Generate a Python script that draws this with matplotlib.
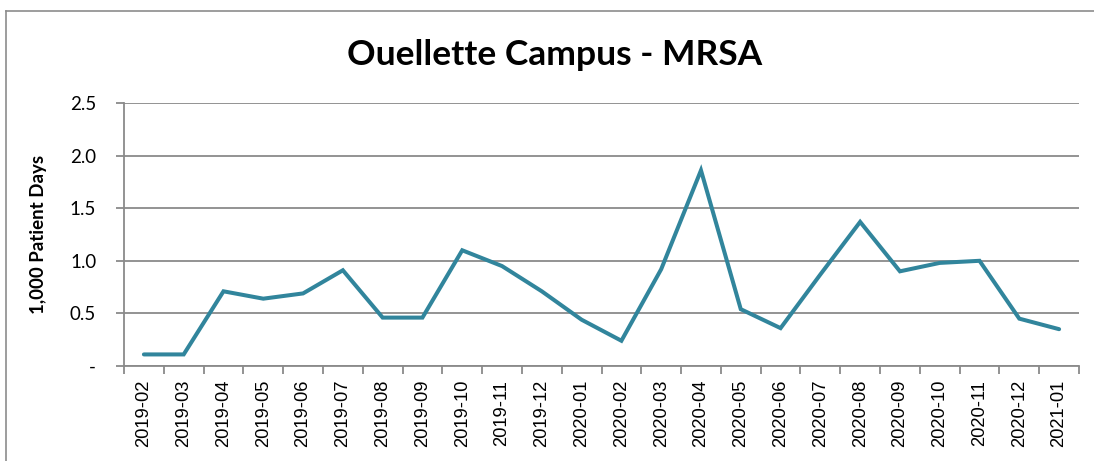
import matplotlib.pyplot as plt
import matplotlib.lines as mlines

months = [
    "2019-02", "2019-03", "2019-04", "2019-05", "2019-06", "2019-07",
    "2019-08", "2019-09", "2019-10", "2019-11", "2019-12", "2020-01",
    "2020-02", "2020-03", "2020-04", "2020-05", "2020-06", "2020-07",
    "2020-08", "2020-09", "2020-10", "2020-11", "2020-12", "2021-01",
]
rate = [
    0.11, 0.11, 0.71, 0.64, 0.69, 0.91,
    0.46, 0.46, 1.10, 0.95, 0.71, 0.44,
    0.24, 0.92, 1.86, 0.54, 0.36, 0.87,
    1.37, 0.90, 0.98, 1.00, 0.45, 0.35,
]
y_ticks = [0.0, 0.5, 1.0, 1.5, 2.0, 2.5]
y_tick_labels = ["-", "0.5", "1.0", "1.5", "2.0", "2.5"]

W, H = 1094, 461
fig = plt.figure(figsize=(W / 100, H / 100), dpi=100)

# outer chart border (left and top visible)
fig.add_artist(mlines.Line2D([6 / W, 6 / W], [0, 1 - 11 / H], transform=fig.transFigure,
                             color="#8c8c8c", lw=1.2))
fig.add_artist(mlines.Line2D([6 / W, 1], [1 - 11 / H, 1 - 11 / H], transform=fig.transFigure,
                             color="#8c8c8c", lw=1.2))

left, right, top, bottom = 124, 1079, 103, 366
ax = fig.add_axes([left / W, 1 - bottom / H, (right - left) / W, (bottom - top) / H])

grid_c = "#8a8a8a"
x = list(range(len(months)))
ax.plot(x, rate, color="#31859C", lw=2.9, solid_joinstyle="miter", solid_capstyle="round", zorder=3)

ax.set_xlim(-0.5, len(months) - 0.5)
ax.set_ylim(0, 2.5)
ax.set_yticks(y_ticks)
ax.set_yticklabels(y_tick_labels, fontfamily="Lato", fontsize=13.5)
ax.yaxis.grid(True, color=grid_c, lw=1.3)
ax.set_axisbelow(True)

ax.set_xticks(x)
ax.set_xticklabels(months, rotation=90, fontfamily="Liberation Sans", fontsize=13.2)
ax.set_xticks([i - 0.5 for i in range(len(months) + 1)], minor=True)
ax.tick_params(axis="x", which="major", length=0, pad=10)
ax.tick_params(axis="x", which="minor", length=6, color=grid_c, width=1.3, direction="out")
ax.tick_params(axis="y", length=6, color=grid_c, width=1.3, pad=14)

for s in ["top", "right"]:
    ax.spines[s].set_visible(False)
for s in ["left", "bottom"]:
    ax.spines[s].set_color(grid_c)
    ax.spines[s].set_linewidth(1.3)

ax.set_ylabel("1,000 Patient Days", fontfamily="Lato", fontweight="bold", fontsize=13.5)
ax.yaxis.set_label_coords((47 - left) / (right - left), 0.5)

fig.text(555 / W, 1 - 55 / H, "Ouellette Campus - MRSA", ha="center", va="center",
         fontfamily="Lato", fontweight="bold", fontsize=25.5)

fig.savefig("out.png", dpi=100)
